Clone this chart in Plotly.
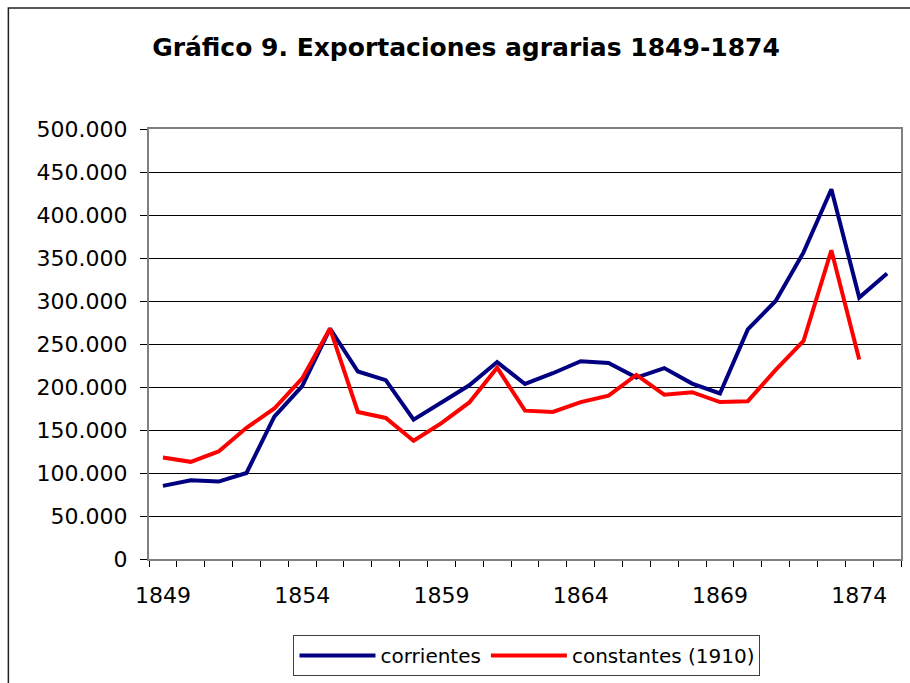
import plotly.graph_objects as go

years = list(range(1849, 1876))
corrientes = [85000, 91500, 90000, 100000, 165500, 201000, 268000, 218000, 208000, 162000,
              182000, 202000, 229000, 203500, 216000, 230000, 228000, 211000, 222000, 204000,
              192500, 267000, 300000, 356500, 430000, 304000, 332000]
constantes = [118000, 113000, 125000, 152500, 175000, 210000, 268000, 171000, 164000, 137500,
              158000, 182000, 222500, 172500, 171000, 182500, 190000, 214000, 191000, 194000,
              182500, 183500, 220000, 253500, 359000, 232000, None]
xtick_years = [1849, 1854, 1859, 1864, 1869, 1874]
title_text = "Gráfico 9. Exportaciones agrarias 1849-1874"

FONT = "DejaVu Sans"

fig = go.Figure()
fig.add_trace(go.Scatter(x=years, y=corrientes, mode="lines", name="corrientes",
                         line=dict(color="#000080", width=4)))
fig.add_trace(go.Scatter(x=years, y=constantes, mode="lines", name="constantes (1910)",
                         line=dict(color="#FF0000", width=4)))

L, R, T, B = 149, 7, 129, 124
W, H = 910, 683
pw, ph = W - L - R, H - T - B

def px_x(p):
    return (p - L) / pw

def px_y(p):
    return (H - B - p) / ph

fig.update_layout(
    width=W, height=H,
    margin=dict(l=L, r=R, t=T, b=B),
    paper_bgcolor="white", plot_bgcolor="white",
    separators=",.",
    font=dict(family=FONT, size=22, color="black"),
    title=dict(text=title_text, x=466 / W, xanchor="center", y=1 - 47 / H, yanchor="middle",
               font=dict(family=FONT, size=25, color="black", weight="bold")),
    showlegend=True,
    legend=dict(orientation="h", x=px_x(528), xanchor="center", y=px_y(635), yanchor="top",
                bordercolor="#404040", borderwidth=1, bgcolor="white",
                font=dict(family=FONT, size=20), itemwidth=76, tracegroupgap=0),
    shapes=[dict(type="rect", xref="paper", yref="paper",
                 x0=px_x(8), x1=px_x(915), y0=px_y(690), y1=px_y(8),
                 line=dict(color="#202020", width=1.5), layer="below")],
)

fig.update_xaxes(
    range=[1848.5, 1875.5], tickmode="array", tickvals=xtick_years,
    ticktext=[str(y) for y in xtick_years],
    ticks="", ticklabelstandoff=16,
    showgrid=False, zeroline=False,
    showline=True, linecolor="#808080", linewidth=2, mirror=True,
    minor=dict(tickvals=[y - 0.5 for y in years] + [1875.5], ticks="outside",
               ticklen=6, tickcolor="black", tickwidth=1, showgrid=False),
)
fig.update_yaxes(
    range=[0, 500000], tickmode="linear", tick0=0, dtick=50000, tickformat=",d",
    ticks="outside", ticklen=7, tickcolor="black", tickwidth=1, ticklabelstandoff=8,
    showgrid=True, gridcolor="black", gridwidth=1, zeroline=False,
    showline=True, linecolor="#808080", linewidth=2, mirror=True,
)

fig.write_html("out.html", config={"displayModeBar": False},
               post_script="document.body.style.margin='0';document.body.style.overflow='hidden';")
